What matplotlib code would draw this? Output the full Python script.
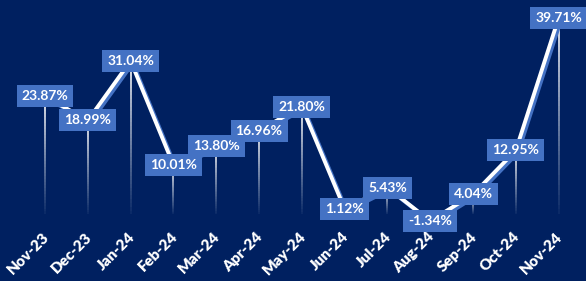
import matplotlib
matplotlib.use("Agg")
import matplotlib.pyplot as plt
import matplotlib.patheffects as pe
import matplotlib.transforms as mtransforms
from matplotlib.collections import LineCollection
import numpy as np

months = ["Nov-23", "Dec-23", "Jan-24", "Feb-24", "Mar-24", "Apr-24", "May-24",
          "Jun-24", "Jul-24", "Aug-24", "Sep-24", "Oct-24", "Nov-24"]
values = [23.87, 18.99, 31.04, 10.01, 13.80, 16.96, 21.80,
          1.12, 5.43, -1.34, 4.04, 12.95, 39.71]

BG = "#002060"
BOX = "#4472C4"
FONT = ["Lato", "DejaVu Sans"]

W, H = 586, 281
fig = plt.figure(figsize=(W / 100, H / 100), dpi=100)
fig.patch.set_facecolor(BG)
ax = fig.add_axes([10.8 / W, 1 - 224.3 / H, (584.3 - 10.8) / W, (224.3 - 6.7) / H])
ax.set_facecolor(BG)
x = np.arange(len(months))
ax.set_xlim(-0.8, 12.6)
ax.set_ylim(-2, 42)

# gradient drop lines from points to zero
n = 40
for xi, v in zip(x, values):
    if v <= 0:
        continue
    ys = np.linspace(v, 0, n + 1)
    segs = [[(xi, ys[k]), (xi, ys[k + 1])] for k in range(n)]
    alphas = np.linspace(0.95, 0.05, n)
    cols = [(1, 1, 1, a) for a in alphas]
    ax.add_collection(LineCollection(segs, colors=cols, linewidths=1.3, zorder=1))

ax.plot(x, values, color="white", lw=2.8, solid_capstyle="round", zorder=2,
        path_effects=[pe.SimpleLineShadow(offset=(1.6, -1.6), shadow_color=BOX, alpha=1.0),
                      pe.Normal()])

for i, (xi, v) in enumerate(zip(x, values)):
    ax.text(xi, v, f"{v:.2f}%", ha="center", va="center", color="white",
            fontsize=10, fontweight="bold", family=FONT, zorder=5 + i * 0.01,
            bbox=dict(boxstyle="square,pad=0.36", fc=BOX, ec="none"))

ax.set_xticks(x)
ax.set_xticklabels(months, rotation=45, ha="right", rotation_mode="anchor",
                   color="white", fontsize=11, fontweight="heavy", family=FONT)
ax.tick_params(axis="x", length=0, pad=4)
offset = mtransforms.ScaledTranslation(-3 / 100, 0, fig.dpi_scale_trans)
for lbl in ax.get_xticklabels():
    lbl.set_transform(lbl.get_transform() + offset)
ax.set_yticks([])
for s in ax.spines.values():
    s.set_visible(False)

fig.savefig("out.png", dpi=100, facecolor=BG)
